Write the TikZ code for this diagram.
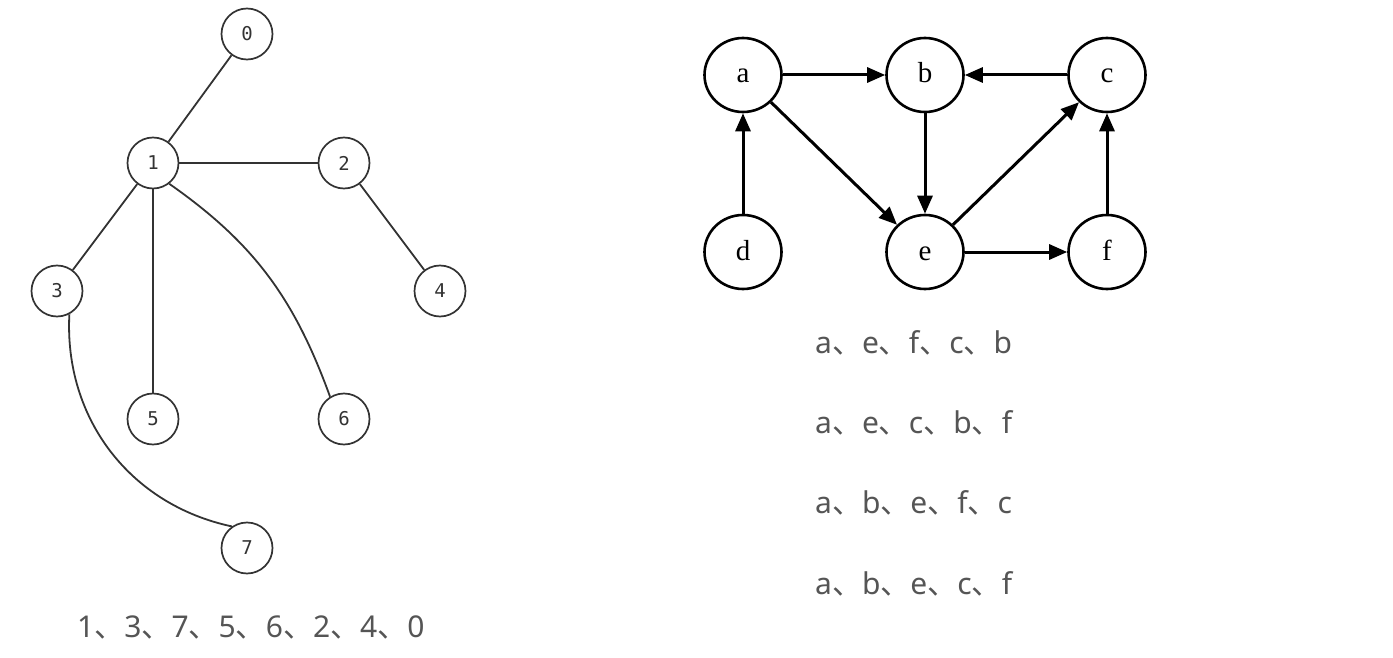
\documentclass[tikz,border=0pt]{standalone}
\usepackage{fontspec}
\setmainfont{Liberation Serif}
\newfontfamily\cjkfont{Noto Sans CJK SC}
\newfontfamily\latinfont{Noto Sans}
\newfontfamily\monofont{DejaVu Sans Mono}
\newcommand{\dun}{{\cjkfont 、}}
\usetikzlibrary{arrows.meta,shapes.geometric}
\definecolor{inkgray}{HTML}{333333}
\definecolor{textgray}{HTML}{555555}
\tikzset{
  treenode/.style={circle, draw=inkgray, line width=1.7pt, minimum size=51pt,
    inner sep=0pt, font=\monofont\fontsize{19}{22}\selectfont, text=inkgray},
  treeedge/.style={draw=inkgray, line width=1.8pt},
  dagnode/.style={ellipse, draw=black, line width=2.6pt, minimum width=77pt,
    minimum height=74pt, inner sep=0pt, font=\fontsize{29}{32}\selectfont,
    text height=16pt, text depth=0pt},
  dagedge/.style={draw=black, line width=3pt,
    -{Triangle[length=18pt,width=15pt]}},
  seqtext/.style={anchor=base west, inner sep=0pt, text=textgray,
    font=\latinfont\fontsize{30}{35}\selectfont}
}
\begin{document}
\begin{tikzpicture}[x=1pt, y=-1pt]
\useasboundingbox (0,0) rectangle (1393,658);
% undirected tree
\node[treenode] (n0) at (247,34)  {0};
\node[treenode] (n1) at (153,163) {1};
\node[treenode] (n2) at (344,163) {2};
\node[treenode] (n3) at (57,291)  {3};
\node[treenode] (n4) at (440,291) {4};
\node[treenode] (n5) at (153,419) {5};
\node[treenode] (n6) at (344,419) {6};
\node[treenode] (n7) at (247,548) {7};
\draw[treeedge] (n1) -- (n0);
\draw[treeedge] (n1) -- (n2);
\draw[treeedge] (n2) -- (n4);
\draw[treeedge] (n1) -- (n3);
\draw[treeedge] (n1) -- (n5);
\draw[treeedge] (n1.-52) to[out=-35, in=110] (n6.122);
\draw[treeedge] (n3.-62) to[out=-93, in=168] (n7.125);
\node[seqtext] (seq1) at (77,637) {1\dun 3\dun 7\dun 5\dun 6\dun 2\dun 4\dun 0};
% directed graph
\node[dagnode] (a) at (743,75)  {a};
\node[dagnode] (b) at (925,75)  {b};
\node[dagnode] (c) at (1107,75) {c};
\node[dagnode] (d) at (743,252) {d};
\node[dagnode] (e) at (925,252) {e};
\node[dagnode] (f) at (1107,252) {f};
\draw[dagedge] (a) -- (b);
\draw[dagedge] (c) -- (b);
\draw[dagedge] (b) -- (e);
\draw[dagedge] (a) -- (e);
\draw[dagedge] (e) -- (c);
\draw[dagedge] (e) -- (f);
\draw[dagedge] (f) -- (c);
\draw[dagedge] (d) -- (a);
% topological orders
\node[seqtext] (ord1) at (815,353) {a\dun e\dun f\dun c\dun b};
\node[seqtext] (ord2) at (815,433) {a\dun e\dun c\dun b\dun f};
\node[seqtext] (ord3) at (815,513) {a\dun b\dun e\dun f\dun c};
\node[seqtext] (ord4) at (815,594) {a\dun b\dun e\dun c\dun f};
\end{tikzpicture}
\end{document}
